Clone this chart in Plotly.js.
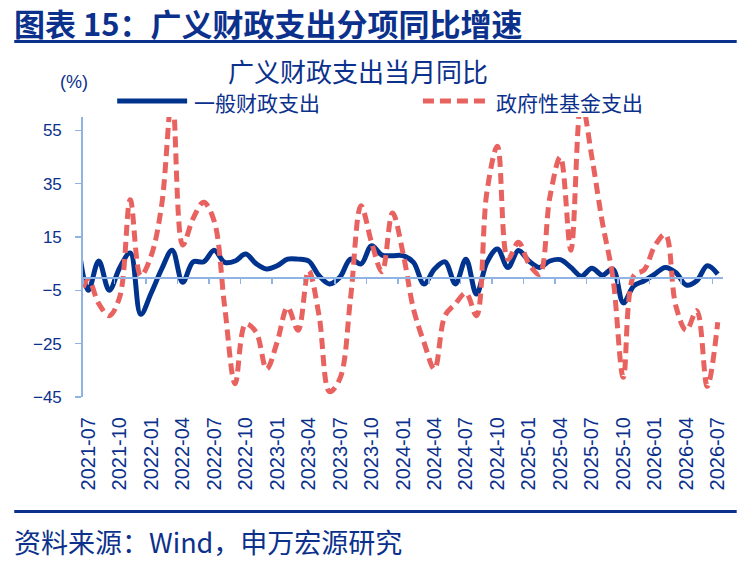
<!DOCTYPE html>
<html>
<head>
<meta charset="utf-8">
<script src="https://cdn.plot.ly/plotly-3.0.1.min.js"></script>
<style>
  html, body { margin: 0; padding: 0; background: #fff; }
  #chart { width: 749px; height: 562px; }
</style>
</head>
<body>
<div id="chart"></div>
<script>
// months (first one sits just left of the axis and is clipped)
const months = [
  "2021-06", "2021-07", "2021-08", "2021-09", "2021-10", "2021-11", "2021-12",
  "2022-01", "2022-02", "2022-03", "2022-04", "2022-05", "2022-06",
  "2022-07", "2022-08", "2022-09", "2022-10", "2022-11", "2022-12",
  "2023-01", "2023-02", "2023-03", "2023-04", "2023-05", "2023-06",
  "2023-07", "2023-08", "2023-09", "2023-10", "2023-11", "2023-12",
  "2024-01", "2024-02", "2024-03", "2024-04", "2024-05", "2024-06",
  "2024-07", "2024-08", "2024-09", "2024-10", "2024-11", "2024-12",
  "2025-01", "2025-02", "2025-03", "2025-04", "2025-05", "2025-06",
  "2025-07", "2025-08", "2025-09", "2025-10", "2025-11", "2025-12",
  "2026-01", "2026-02", "2026-03", "2026-04", "2026-05", "2026-06",
  "2026-07"
];

// 一般财政支出 (%)
const generalSpending = [
  14, -5, 6, -5, 3.5, 9, -14,
  -6, 3, 10, -2, 5.7, 5.7,
  10, 5.5, 6, 8.6, 5, 3,
  4.2, 6.7, 6.7, 6, 0.5, -2.6,
  0, 6.7, 4.9, 11.7, 8.2, 8,
  8, 5.5, -2.6, 3, 5.7, -2.6,
  6.7, -6.4, 5.5, 10.5, 3.6, 9.9,
  6, 3.6, 6, 6.5, 3.6, 0.3,
  3.3, 0.7, 3, -9.7, -3.3, -1.4,
  1.1, 3.6, 1.7, -3, -1.4, 4.2,
  1.1
];

// 政府性基金支出 (%)
const fundSpending = [
  -10, -1, -10, -14.5, -7.5, 29, 0.5,
  8, 27, 68, 12, 22, 28,
  21, -11, -40, -17.6, -20.7, -34.5,
  -24.5, -11.4, -20, 2.4, -14.5, -43,
  -38, -8, 26.7, 13, 2, 24,
  9, -12, -24.5, -34.5, -14.5, -10,
  -6, -14.5, 32, 49, 6.7, 13,
  5, 1, 30, 45, 10, 66,
  45, 20.5, 0, -37.6, 0.5, 2.7,
  11.7, 16, -10.8, -20, -12.6, -41,
  -17
];

const yTicks = [-45, -25, -5, 15, 35, 55];

const navy = "#0b318c";
const lineBlue = "#00338e";
const red = "#e8625f";
const axisBlue = "#8fb3e2";
const font = "Liberation Sans, Arial, Noto Sans CJK SC, sans-serif";
const cjk = "Noto Sans CJK SC, sans-serif";

// plot box in pixels
const L = 82.8, R = 723.3, T = 117, B = 396.7;
const px = x => (x - L) / (R - L);
const py = y => (B - y) / (B - T);

const xIdx = months.map((m, i) => i);
const labelIdx = xIdx.filter(i => i % 3 === 1);
const labelText = labelIdx.map(i => months[i]);
const boundaryIdx = labelIdx.map(i => i - 0.5);
const xRange = [0.5, months.length - 0.5];
const yRange = [-45, 60];

const traces = [
  {
    x: xIdx, y: generalSpending, name: "一般财政支出",
    type: "scatter", mode: "lines",
    line: { color: lineBlue, width: 5, shape: "spline", smoothing: 1 },
    hoverinfo: "skip"
  },
  {
    x: xIdx, y: fundSpending, name: "政府性基金支出",
    type: "scatter", mode: "lines",
    line: { color: red, width: 5, dash: "11px,6px", shape: "spline", smoothing: 1 },
    hoverinfo: "skip"
  },
  {
    // carries the axis drawn along y = 0
    x: xIdx, y: generalSpending, xaxis: "x2",
    type: "scatter", mode: "none", showlegend: false, hoverinfo: "skip"
  }
];

const layout = {
  width: 749, height: 562,
  margin: { l: L, r: 749 - R, t: T, b: 562 - B, pad: 0 },
  paper_bgcolor: "#fff", plot_bgcolor: "#fff",
  showlegend: false,
  font: { family: font, color: navy, size: 16 },
  title: {
    text: "<b>图表 15：广义财政支出分项同比增速</b>",
    font: { family: cjk, size: 31, color: navy },
    x: 14 / 749, xanchor: "left", xref: "container",
    y: 1 - 25 / 562, yanchor: "middle", yref: "container"
  },
  xaxis: {
    type: "linear", range: xRange,
    tickmode: "array", tickvals: labelIdx, ticktext: labelText,
    tickangle: -90, ticks: "", ticklabelstandoff: 15,
    tickfont: { family: font, size: 20, color: navy },
    showline: false, showgrid: false, zeroline: false, fixedrange: true
  },
  xaxis2: {
    type: "linear", range: xRange, overlaying: "x",
    anchor: "free", position: (0 - yRange[0]) / (yRange[1] - yRange[0]),
    tickmode: "array", tickvals: boundaryIdx,
    ticks: "outside", ticklen: 5, tickwidth: 1.5, tickcolor: axisBlue,
    showticklabels: false,
    showline: true, linecolor: axisBlue, linewidth: 1.8,
    showgrid: false, zeroline: false, fixedrange: true
  },
  yaxis: {
    range: yRange, tickmode: "array", tickvals: yTicks,
    ticks: "outside", ticklen: 6, tickwidth: 1.5, tickcolor: axisBlue,
    ticklabelstandoff: 10,
    tickfont: { family: font, size: 17, color: navy },
    showline: true, linecolor: axisBlue, linewidth: 1.8,
    showgrid: false, zeroline: false, fixedrange: true
  },
  shapes: [
    { type: "line", xref: "paper", yref: "paper", x0: px(14), x1: px(737), y0: py(41.5), y1: py(41.5),
      line: { color: navy, width: 3 } },
    { type: "line", xref: "paper", yref: "paper", x0: px(14), x1: px(737), y0: py(511), y1: py(511),
      line: { color: navy, width: 3 } },
    // legend swatches
    { type: "line", xref: "paper", yref: "paper", x0: px(117), x1: px(187), y0: py(101), y1: py(101),
      line: { color: lineBlue, width: 5 } },
    { type: "line", xref: "paper", yref: "paper", x0: px(423), x1: px(490), y0: py(101), y1: py(101),
      line: { color: red, width: 5, dash: "11px,6px" } }
  ],
  annotations: [
    { text: "广义财政支出当月同比", xref: "paper", yref: "paper", x: px(358), y: py(71),
      xanchor: "center", yanchor: "middle", showarrow: false,
      font: { family: cjk, size: 26, color: navy } },
    { text: "(%)", xref: "paper", yref: "paper", x: px(74), y: py(82),
      xanchor: "center", yanchor: "middle", showarrow: false,
      font: { family: font, size: 18, color: navy } },
    { text: "一般财政支出", xref: "paper", yref: "paper", x: px(192), y: py(102),
      xanchor: "left", yanchor: "middle", showarrow: false,
      font: { family: cjk, size: 21, color: navy } },
    { text: "政府性基金支出", xref: "paper", yref: "paper", x: px(494), y: py(102),
      xanchor: "left", yanchor: "middle", showarrow: false,
      font: { family: cjk, size: 21, color: navy } },
    { text: "资料来源：Wind，申万宏源研究", xref: "paper", yref: "paper", x: px(12), y: py(541),
      xanchor: "left", yanchor: "middle", showarrow: false,
      font: { family: cjk, size: 27, color: navy } }
  ]
};

Plotly.newPlot("chart", traces, layout, { displayModeBar: false, staticPlot: true });
</script>
</body>
</html>
